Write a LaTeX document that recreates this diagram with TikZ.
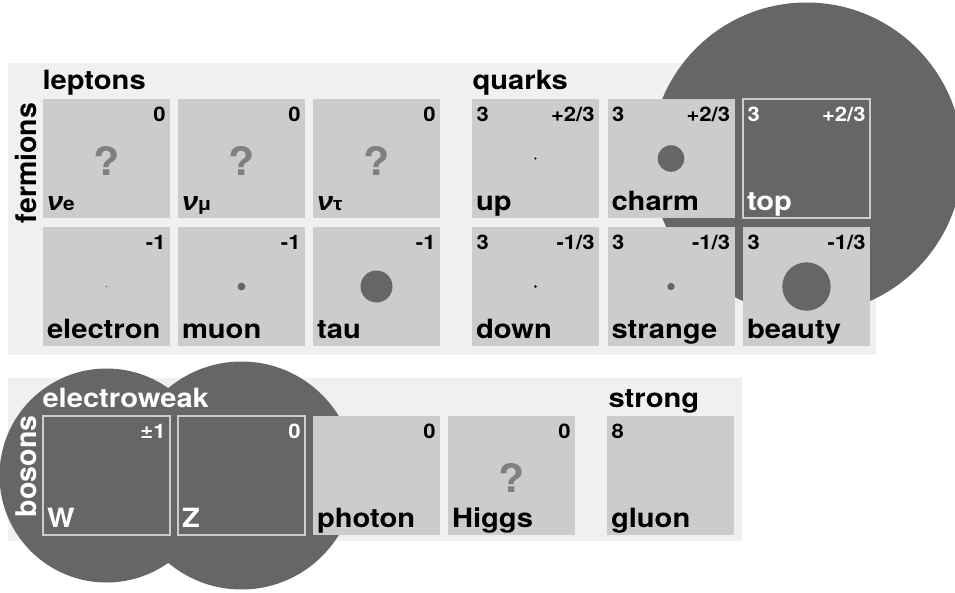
\documentclass[tikz,border=0pt]{standalone}
\usepackage{fontspec}
\setmainfont{TeX Gyre Heros}[FakeStretch=1.1]
\newfontfamily\rotfont{TeX Gyre Heros}
\newfontfamily\grkfont{Liberation Sans}[FakeStretch=1.1]
\usetikzlibrary{calc}
\definecolor{panelc}{HTML}{F0F0F0}
\definecolor{boxc}{HTML}{CCCCCC}
\definecolor{darkc}{HTML}{666666}
\definecolor{qmarkc}{HTML}{808080}
\tikzset{
  panelbg/.style={fill=panelc, draw=none},
  pbox/.style={rectangle, fill=boxc, draw=none, minimum width=127pt, minimum height=119pt, inner sep=0pt, outer sep=0pt, anchor=north west},
  obox/.style={rectangle, draw=boxc, line width=1.2pt, fill=none, minimum width=127pt, minimum height=119pt, inner sep=0pt, outer sep=0pt, anchor=north west},
  lbl/.style={font=\bfseries\fontsize{26.5}{28}\selectfont, inner sep=0pt, outer sep=0pt},
  catlbl/.style={lbl, anchor=base west},
  num/.style={font=\bfseries\fontsize{20}{22}\selectfont, inner sep=0pt, outer sep=0pt},
  qm/.style={font=\bfseries\fontsize{39}{40}\selectfont, text=qmarkc, inner sep=0pt, outer sep=0pt, anchor=base},
  rotlbl/.style={font=\rotfont\bfseries\fontsize{28.5}{30}\selectfont, inner sep=0pt, outer sep=0pt, rotate=90, anchor=base west},
  massc/.style={fill=darkc, draw=none},
}
% #1 name, #2 x, #3 y, #4 box style, #5 label, #6 right number
\newcommand\partcell[6]{%
  \node[#4] (#1) at (#2,#3) {};
  \node[lbl, anchor=base west] (#1-n) at ($(#1.south west)+(4,-7.5)$) {#5};
  \node[num, anchor=base east] (#1-q) at ($(#1.north east)+(-4.5,22)$) {#6};
}
\newcommand\colnum[2]{%
  \node[num, anchor=base west] (#1-c) at ($(#1.north west)+(4.5,22)$) {#2};
}
\newcommand\nulbl[1]{{\grkfont\bfseries\itshape ν}{\fontsize{19}{20}\selectfont #1}}
\begin{document}
\begin{tikzpicture}[x=1pt,y=-1pt]
\useasboundingbox (0,0) rectangle (955,592);
\clip (0,0) rectangle (955,592);
\fill[white] (0,0) rectangle (955,592);

% panels
\fill[panelbg] (8,63) rectangle (876,355);
\fill[panelbg] (8,378) rectangle (742,541);

% large mass circles
\fill[massc] (806.5,158.5) circle (156pt);
\fill[massc] (106.5,475.5) circle (107pt);
\fill[massc] (241.5,475.5) circle (114pt);

% category labels
\node[catlbl] (leptons) at (42.5,89.3) {leptons};
\node[catlbl] (quarks) at (472.5,89.3) {quarks};
\node[catlbl, text=white] (electroweak) at (42.5,407.3) {electroweak};
\node[catlbl] (strong) at (608.5,407.3) {strong};
\node[rotlbl] (fermions) at (36.5,223) {fermions};
\node[rotlbl, text=white] (bosons) at (36.7,517) {bosons};

% leptons
\partcell{ve}{43}{99}{pbox}{\nulbl{e}}{0}
\partcell{vm}{178}{99}{pbox}{{\grkfont\bfseries\itshape ν}{\grkfont\bfseries\fontsize{19}{20}\selectfont μ}}{0}
\partcell{vt}{313}{99}{pbox}{{\grkfont\bfseries\itshape ν}{\grkfont\bfseries\fontsize{19}{20}\selectfont τ}}{0}
\partcell{el}{43}{227}{pbox}{electron}{-1}
\partcell{mu}{178}{227}{pbox}{muon}{-1}
\partcell{ta}{313}{227}{pbox}{tau}{-1}
\node[qm] (ve-x) at ($(ve.center)+(0,16.5)$) {?};
\node[qm] (vm-x) at ($(vm.center)+(0,16.5)$) {?};
\node[qm] (vt-x) at ($(vt.center)+(0,16.5)$) {?};
\fill[massc] (el.center) circle (0.9pt);
\fill[massc] (mu.center) circle (3.9pt);
\fill[massc] (ta.center) circle (16pt);

% quarks
\partcell{up}{472}{99}{pbox}{up}{+2/3}
\partcell{ch}{607.5}{99}{pbox}{charm}{+2/3}
\begin{scope}[text=white]
\partcell{tp}{743}{99}{obox}{top}{+2/3}
\colnum{tp}{3}
\end{scope}
\partcell{dn}{472}{227}{pbox}{down}{-1/3}
\partcell{st}{607.5}{227}{pbox}{strange}{-1/3}
\partcell{bt}{743}{227}{pbox}{beauty}{-1/3}
\colnum{up}{3}
\colnum{ch}{3}
\colnum{dn}{3}
\colnum{st}{3}
\colnum{bt}{3}
\fill[black] (up.center) circle (1.2pt);
\fill[massc] (ch.center) circle (13.3pt);
\fill[black] (dn.center) circle (1.4pt);
\fill[massc] (st.center) circle (3.7pt);
\fill[massc] (bt.center) circle (24.2pt);

% bosons
\begin{scope}[text=white]
\partcell{W}{43}{416}{obox}{W}{±1}
\partcell{Z}{178}{416}{obox}{Z}{0}
\end{scope}
\partcell{ph}{313}{416}{pbox}{photon}{0}
\partcell{hg}{448}{416}{pbox}{Higgs}{0}
\node[qm] (hg-x) at ($(hg.center)+(0,16.5)$) {?};
\node[pbox] (gl) at (607,416) {};
\node[lbl, anchor=base west] (gl-n) at ($(gl.south west)+(4,-7.5)$) {gluon};
\colnum{gl}{8}
\end{tikzpicture}
\end{document}
